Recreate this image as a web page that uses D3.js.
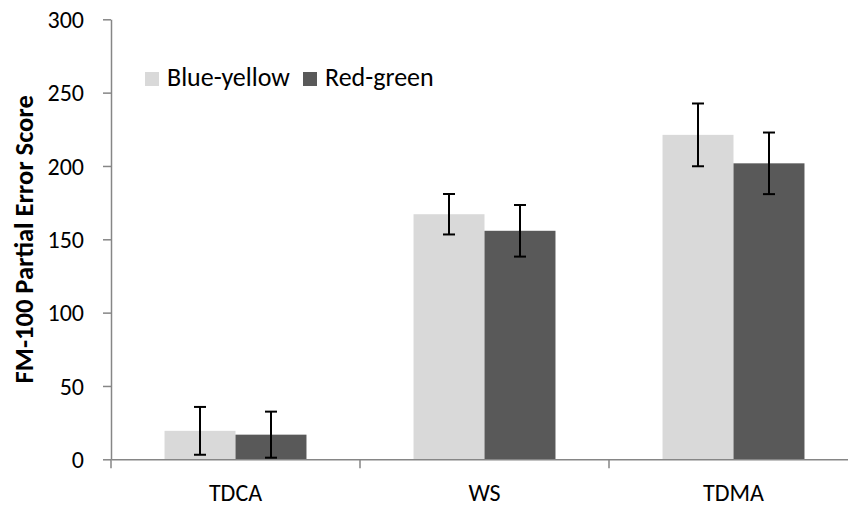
<!DOCTYPE html>
<html>
<head>
<meta charset="utf-8">
<script src="https://cdn.jsdelivr.net/npm/d3@7"></script>
<style>
  html, body { margin: 0; padding: 0; background: #fff; }
  svg { display: block; }
  text { font-family: Carlito, Calibri, "Open Sans", sans-serif; fill: #000; }
</style>
</head>
<body>
<svg id="chart" width="848" height="511"></svg>
<script>
const categories = ["TDCA", "WS", "TDMA"];
const seriesNames = ["Blue-yellow", "Red-green"];
const blueYellow = [19.4, 167.1, 221.2];
const blueYellowErr = [16.3, 13.8, 21.4];
const redGreen = [16.8, 155.8, 201.8];
const redGreenErr = [15.7, 17.6, 21.0];
const yTicks = [0, 50, 100, 150, 200, 250, 300];
const seriesColors = ["#d9d9d9", "#595959"];

const svg = d3.select("#chart");
const mLeft = 111, mRight = 858, mTop = 19.3, mBottom = 459.3;

const x = d3.scaleBand().domain(categories).range([mLeft, mRight]).paddingInner(0).paddingOuter(0);
const x1 = d3.scaleBand().domain(seriesNames).range([0, x.bandwidth()]).paddingInner(0).paddingOuter(0.754);
const y = d3.scaleLinear().domain([0, 300]).range([mBottom, mTop]);

const series = [
  { name: seriesNames[0], values: blueYellow, errs: blueYellowErr, color: seriesColors[0] },
  { name: seriesNames[1], values: redGreen, errs: redGreenErr, color: seriesColors[1] }
];

const rows = [];
series.forEach(s => categories.forEach((c, i) => rows.push({ cat: c, name: s.name, v: s.values[i], e: s.errs[i], color: s.color })));

// bars
svg.append("g").selectAll("rect").data(rows).join("rect")
  .attr("x", d => x(d.cat) + x1(d.name))
  .attr("width", x1.bandwidth())
  .attr("y", d => y(d.v))
  .attr("height", d => y(0) - y(d.v))
  .attr("fill", d => d.color);

// y axis
const yAxis = svg.append("g").attr("transform", `translate(${mLeft},0)`)
  .call(d3.axisLeft(y).tickValues(yTicks).tickSize(8).tickPadding(19).tickSizeOuter(0));
yAxis.select(".domain").attr("stroke", "#868686").attr("stroke-width", 1.5);
yAxis.selectAll(".tick line").attr("stroke", "#868686").attr("stroke-width", 1.5);
yAxis.selectAll(".tick text").attr("font-size", 24).attr("fill", "#000").attr("dy", "0.34em");

// x axis
const xAxis = svg.append("g").attr("transform", `translate(0,${mBottom})`)
  .call(d3.axisBottom(x).tickSize(0).tickPadding(0).tickSizeOuter(0));
xAxis.select(".domain").attr("stroke", "#868686").attr("stroke-width", 1.5);
xAxis.selectAll(".tick text").attr("font-size", 24)
  .attr("fill", "#000").attr("dy", null).attr("y", 41.5);
// category boundary ticks
const boundaries = categories.map(c => x(c)).concat([x.range()[1]]);
svg.append("g").selectAll("line").data(boundaries).join("line")
  .attr("x1", d => d).attr("x2", d => d)
  .attr("y1", mBottom).attr("y2", mBottom + 9)
  .attr("stroke", "#868686").attr("stroke-width", 1.5);

// error bars
const eg = svg.append("g").attr("stroke", "#000").attr("stroke-width", 2);
rows.forEach(d => {
  const cx = x(d.cat) + x1(d.name) + x1.bandwidth() / 2;
  eg.append("line").attr("x1", cx).attr("x2", cx).attr("y1", y(d.v + d.e)).attr("y2", y(d.v - d.e));
  [d.v + d.e, d.v - d.e].forEach(val => {
    eg.append("line").attr("x1", cx - 6).attr("x2", cx + 6).attr("y1", y(val)).attr("y2", y(val));
  });
});

// y title
svg.append("text")
  .attr("transform", `translate(33,${(mTop + mBottom) / 2}) rotate(-90)`)
  .attr("text-anchor", "middle")
  .attr("font-size", 26.5).attr("font-weight", "bold")
  .text("FM-100 Partial Error Score");

// legend
const legendX = [145, 303];
const lg = svg.append("g");
series.forEach((s, i) => {
  lg.append("rect").attr("x", legendX[i]).attr("y", 72).attr("width", 14).attr("height", 14).attr("fill", s.color);
  lg.append("text").attr("x", legendX[i] + 22).attr("y", 86).attr("font-size", 26).text(s.name);
});
</script>
</body>
</html>
